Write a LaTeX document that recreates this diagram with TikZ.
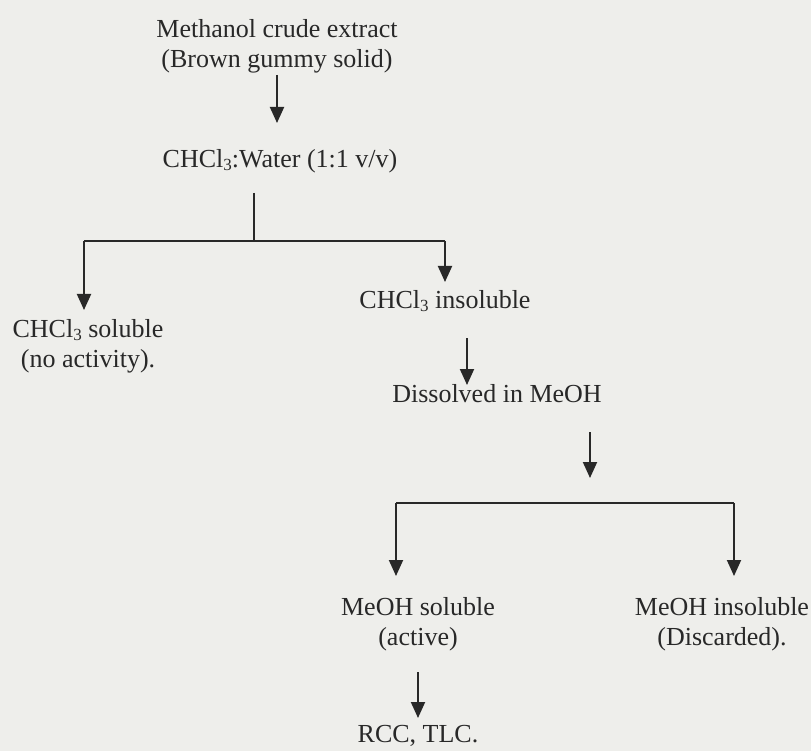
\documentclass[tikz,border=0pt]{standalone}
\usepackage{fontspec}
\setmainfont{Liberation Serif}
\usetikzlibrary{arrows.meta}
\definecolor{paper}{RGB}{238,238,235}
\definecolor{ink}{RGB}{40,40,40}
\newcommand{\chsub}[1]{\raisebox{-0.28ex}{\fontsize{17}{17}\selectfont #1}}
\tikzset{
  lbl/.style={font=\fontsize{26}{30}\selectfont, text=ink, align=center, inner sep=0pt},
  flow/.style={draw=ink, line width=1.9pt, -{Triangle[width=14pt,length=16pt]}},
  plain/.style={draw=ink, line width=1.9pt}
}
\begin{document}
\begin{tikzpicture}[x=1pt,y=-1pt]
\fill[paper] (0,0) rectangle (811,751);
\useasboundingbox (0,0) rectangle (811,751);
\node[lbl] (a) at (277,46) {Methanol crude extract\\(Brown gummy solid)};
\node[lbl] (b) at (280,161) {CHCl\chsub{3}:Water (1:1 v/v)};
\node[lbl] (c) at (445,301) {CHCl\chsub{3} insoluble};
\node[lbl] (d) at (88,346) {CHCl\chsub{3} soluble\\(no activity).};
\node[lbl] (e) at (497,394) {Dissolved in MeOH};
\node[lbl] (f) at (418,624) {MeOH soluble\\(active)};
\node[lbl] (g) at (722,624) {MeOH insoluble\\(Discarded).};
\node[lbl] (h) at (418,736) {RCC, TLC.};
\coordinate (s1) at (254,193);
\coordinate (j1) at (254,241);
\coordinate (l1) at (84,241);
\coordinate (r1) at (445,241);
\coordinate (s2) at (590,432);
\coordinate (j2) at (590,503);
\coordinate (l2) at (396,503);
\coordinate (r2) at (734,503);
\draw[flow] (277,75) -- (277,123);
\draw[plain] (s1) -- (j1);
\draw[plain] (l1) -- (r1);
\draw[flow] (l1) -- (84,310);
\draw[flow] (r1) -- (445,282);
\draw[flow] (467,338) -- (467,385);
\draw[flow] (s2) -- (590,478);
\draw[plain] (l2) -- (r2);
\draw[flow] (l2) -- (396,576);
\draw[flow] (r2) -- (734,576);
\draw[flow] (418,672) -- (418,718);
\end{tikzpicture}
\end{document}
